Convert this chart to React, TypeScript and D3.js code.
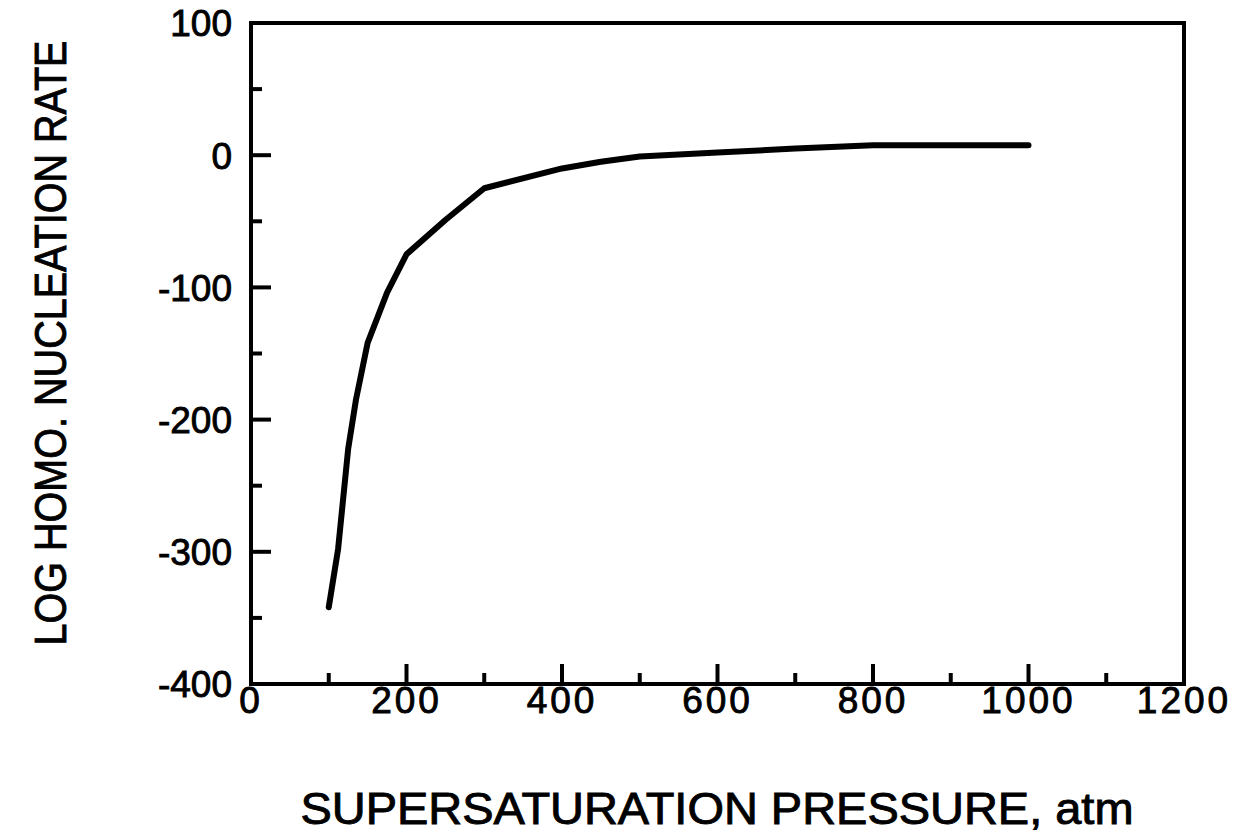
import React from 'react';
import * as d3 from 'd3';

// curve: pressure (atm) vs log nucleation rate
const pressure = [100, 112, 125, 135, 150, 175, 200, 250, 300, 400, 450, 500, 600, 700, 800, 1000];
const logRate = [-342, -298, -222, -185, -142, -104, -75, -49, -25, -10, -5, -1, 2, 5, 7.5, 7.5];

const xTicks = [0, 200, 400, 600, 800, 1000, 1200];
const xMinor = [100, 300, 500, 700, 900, 1100];
const yTicks = [100, 0, -100, -200, -300, -400];
const yMinor = [50, -50, -150, -250, -350];

const W = 1237;
const H = 839;
const left = 251;
const right = 1184;
const top = 23;
const bottom = 684;
const font = '"Liberation Sans", Arial, Helvetica, sans-serif';

export default function App() {
  const x = d3.scaleLinear().domain([0, 1200]).range([left, right]);
  const y = d3.scaleLinear().domain([-400, 100]).range([bottom, top]);

  const line = d3.line<number>()
    .x((d, i) => x(pressure[i]))
    .y(d => y(d));

  // slightly heavier text, like the scanned original
  const ink = { fill: '#000', stroke: '#000', strokeWidth: 0.9 };

  return (
    <svg width={W} height={H} style={{ position: 'absolute', left: 0, top: 0, background: '#fff' }}>
      <rect x={left} y={top} width={right - left} height={bottom - top}
        fill="none" stroke="#000" strokeWidth={4} />

      {/* y ticks, pointing inward */}
      {yTicks.map(t => (
        <g key={'y' + t}>
          <line x1={left} x2={left + 20} y1={y(t)} y2={y(t)} stroke="#000" strokeWidth={4} />
          <text x={232} y={y(t)} dy="0.36em" textAnchor="end" fontFamily={font} fontSize={37} {...ink}>{t}</text>
        </g>
      ))}
      {yMinor.map(t => (
        <line key={'ym' + t} x1={left} x2={left + 11} y1={y(t)} y2={y(t)} stroke="#000" strokeWidth={4} />
      ))}

      {/* x ticks */}
      {xTicks.map(t => (
        <g key={'x' + t}>
          {t > 0 && t < 1200 && (
            <line x1={x(t)} x2={x(t)} y1={bottom} y2={bottom - 20} stroke="#000" strokeWidth={4} />
          )}
          <text x={x(t)} y={713} textAnchor="middle" fontFamily={font} fontSize={37} letterSpacing={3} {...ink}>{t}</text>
        </g>
      ))}
      {xMinor.map(t => (
        <line key={'xm' + t} x1={x(t)} x2={x(t)} y1={bottom} y2={bottom - 11} stroke="#000" strokeWidth={4} />
      ))}

      <path d={line(logRate) || ''} fill="none" stroke="#000" strokeWidth={6}
        strokeLinejoin="round" strokeLinecap="round" />

      <text x={717} y={824} textAnchor="middle" fontFamily={font} fontSize={44}
        textLength={833} lengthAdjust="spacingAndGlyphs" {...ink}>SUPERSATURATION PRESSURE, atm</text>
      <text transform="translate(66,343) rotate(-90)" textAnchor="middle" fontFamily={font} fontSize={44}
        textLength={605} lengthAdjust="spacingAndGlyphs" {...ink}>LOG HOMO. NUCLEATION RATE</text>
    </svg>
  );
}
